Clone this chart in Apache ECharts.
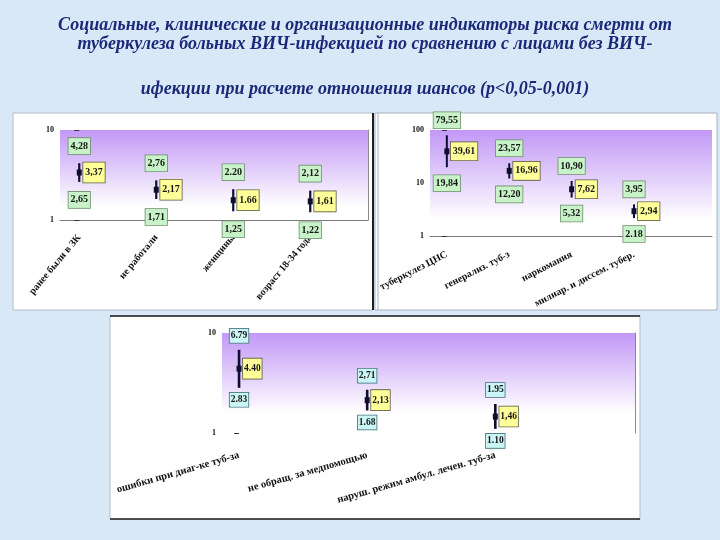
<!DOCTYPE html>
<html>
<head>
<meta charset="utf-8">
<script src="https://cdn.jsdelivr.net/npm/echarts@6/dist/echarts.min.js"></script>
<style>
  html, body { margin: 0; padding: 0; background: #d9e8f7; }
  #chart { width: 720px; height: 540px; }
</style>
</head>
<body>
<div id="chart"></div>
<script>
// панель 1 - социальные индикаторы
var cats1 = ['ранее были в ЗК', 'не работали', 'женщины', 'возраст 18-34 года'];
var upper1 = ['4,28', '2,76', '2.20', '2,12'];
var odds1 = ['3,37', '2,17', '1.66', '1,61'];
var lower1 = ['2,65', '1,71', '1,25', '1,22'];

// панель 2 - клинические
var cats2 = ['туберкулез ЦНС', 'генерализ. туб-з', 'наркомания', 'милиар. и диссем. тубер.'];
var upper2 = ['79,55', '23,57', '10,90', '3,95'];
var odds2 = ['39,61', '16,96', '7,62', '2,94'];
var lower2 = ['19,84', '12,20', '5,32', '2.18'];

// панель 3 - организационные
var cats3 = ['ошибки при диаг-ке туб-за', 'не обращ. за медпомощью', 'наруш. режим амбул. лечен. туб-за'];
var upper3 = ['6.79', '2,71', '1.95'];
var odds3 = ['4.40', '2,13', '1,46'];
var lower3 = ['2.83', '1.68', '1.10'];

var yTicks1 = [1, 10];
var yTicks2 = [1, 10, 100];
var yTicks3 = [1, 10];

var SERIF = '"Liberation Serif", "DejaVu Serif", serif';

function num(s) {
  return parseFloat(String(s).replace(',', '.'));
}

function rows(cats, lo, or, up) {
  return cats.map(function (c, i) {
    return [i, num(lo[i]), num(or[i]), num(up[i])];
  });
}

function ciRender(up, or, lo, st) {
  return function (params, api) {
    var i = params.dataIndex;
    var x = api.value(0);
    var pUp = api.coord([x, api.value(3)]);
    var pOr = api.coord([x, api.value(2)]);
    var pLo = api.coord([x, api.value(1)]);
    function box(txt, px, py, align, fill, border, pad) {
      return {
        type: 'text', x: px, y: py, z2: 10,
        style: {
          text: txt, align: align, verticalAlign: 'middle',
          font: 'bold ' + st.fs + 'px ' + SERIF, fill: '#151515',
          backgroundColor: fill, borderColor: border, borderWidth: 0.8,
          padding: pad
        }
      };
    }
    return {
      type: 'group',
      children: [
        { type: 'line', shape: { x1: pUp[0], y1: pUp[1], x2: pLo[0], y2: pLo[1] },
          style: { stroke: '#0e0e30', lineWidth: st.lw } },
        { type: 'rect', shape: { x: pOr[0] - 2.5, y: pOr[1] - 3, width: 5, height: 6 },
          style: { fill: '#0e0e30' } },
        box(up[i], pUp[0], pUp[1] - st.upOff, 'center', st.ciFill, st.ciBorder, st.ciPad),
        box(lo[i], pLo[0], pLo[1] + st.loOff, 'center', st.ciFill, st.ciBorder, st.ciPad),
        box(or[i], pOr[0] + 4, pOr[1], 'left', '#ffff99', '#5a5a40', st.orPad)
      ]
    };
  };
}

function purple(stop) {
  return {
    type: 'linear', x: 0, y: 0, x2: 0, y2: 1,
    colorStops: [
      { offset: 0, color: '#c298f6' },
      { offset: stop, color: '#ffffff' },
      { offset: 1, color: '#ffffff' }
    ]
  };
}

function catAxis(gi, cats, min, max, rot, margin, line, size) {
  return {
    type: 'value', gridIndex: gi, min: min, max: max,
    axisLine: { show: line, lineStyle: { color: '#7a7a7a', width: 1 } },
    axisTick: { show: false },
    splitLine: { show: false },
    axisLabel: {
      customValues: cats.map(function (c, i) { return i; }),
      formatter: function (v) { return cats[v]; },
      rotate: rot, margin: margin,
      fontFamily: SERIF, fontWeight: 'bold', fontSize: size, color: '#111'
    }
  };
}

function logAxis(gi, max) {
  return {
    type: 'log', logBase: 10, gridIndex: gi, min: 1, max: max,
    axisLine: { show: false },
    axisTick: { show: true, length: 5, lineStyle: { color: '#333' } },
    splitLine: { show: false },
    axisLabel: { fontFamily: SERIF, fontWeight: 'bold', fontSize: 8, color: '#111', margin: 6 }
  };
}

function borderAxis(gi) {
  return {
    type: 'value', gridIndex: gi, position: 'right', min: 0, max: 1,
    axisLine: { show: true, lineStyle: { color: '#8a8a8a' } },
    axisTick: { show: false }, axisLabel: { show: false }, splitLine: { show: false }
  };
}

var style1 = { fs: 10, lw: 2.2, upOff: 17, loOff: 18, ciFill: '#c8f2c8', ciBorder: '#6f8f6f', ciPad: [3, 2, 3, 2], orPad: [5, 2, 5, 2] };
var style2 = { fs: 10, lw: 2, upOff: 15, loOff: 16, ciFill: '#c8f2c8', ciBorder: '#6f8f6f', ciPad: [3, 2, 3, 2], orPad: [4, 2, 4, 2] };
var style3 = { fs: 9.5, lw: 2.6, upOff: 14, loOff: 12, ciFill: '#ccf6f6', ciBorder: '#3f6f7a', ciPad: [2, 1, 2, 1], orPad: [5, 1, 5, 1] };

var titleFont = {
  fontFamily: SERIF, fontStyle: 'italic', fontWeight: 'bold',
  fontSize: 18, lineHeight: 19, color: '#1b2a78'
};

var option = {
  backgroundColor: '#d9e8f7',
  animation: false,
  title: {
    text: 'Социальные, клинические и организационные индикаторы риска смерти от\n' +
          'туберкулеза больных ВИЧ-инфекцией по сравнению с лицами без ВИЧ-',
    subtext: 'ифекции при расчете отношения шансов (p<0,05-0,001)',
    left: 360, top: 11,
    textAlign: 'center',
    itemGap: 26,
    padding: 5,
    textStyle: titleFont,
    subtextStyle: titleFont
  },
  graphic: [
    { type: 'rect', z: -10, shape: { x: 13, y: 113, width: 360, height: 197 },
      style: { fill: '#ffffff', stroke: '#b4bcc6', lineWidth: 1 } },
    { type: 'line', z: -9, shape: { x1: 373, y1: 113, x2: 373, y2: 310 },
      style: { stroke: '#1e1e1e', lineWidth: 2 } },
    { type: 'rect', z: -10, shape: { x: 375, y: 113, width: 342, height: 197 },
      style: { fill: '#ffffff', stroke: '#a9b2bc', lineWidth: 1 } },
    { type: 'line', z: -9, shape: { x1: 378, y1: 113, x2: 378, y2: 310 },
      style: { stroke: '#a9b2bc', lineWidth: 1 } },
    { type: 'rect', z: -10, shape: { x: 110, y: 316, width: 530, height: 203 },
      style: { fill: '#ffffff', stroke: '#b4bcc6', lineWidth: 1 } },
    { type: 'line', z: -9, shape: { x1: 110, y1: 316, x2: 640, y2: 316 },
      style: { stroke: '#1e1e1e', lineWidth: 1.5 } },
    { type: 'line', z: -9, shape: { x1: 110, y1: 519, x2: 640, y2: 519 },
      style: { stroke: '#1e1e1e', lineWidth: 1.5 } }
  ],
  grid: [
    { left: 60, top: 130, width: 308, height: 90, show: true, borderWidth: 0, backgroundColor: purple(0.85) },
    { left: 430, top: 130, width: 282, height: 106, show: true, borderWidth: 0, backgroundColor: purple(0.85) },
    { left: 222, top: 333, width: 413, height: 100, show: true, borderWidth: 0, backgroundColor: purple(0.8) }
  ],
  xAxis: [
    catAxis(0, cats1, -0.25, 3.75, 50, 16, true, 10),
    catAxis(1, cats2, -0.27, 4.25, 27, 18, true, 10),
    catAxis(2, cats3, -0.133, 3.09, 16, 22, false, 10.5)
  ],
  yAxis: [
    logAxis(0, yTicks1[yTicks1.length - 1]),
    borderAxis(0),
    logAxis(1, yTicks2[yTicks2.length - 1]),
    logAxis(2, yTicks3[yTicks3.length - 1]),
    borderAxis(2)
  ],
  series: [
    { type: 'custom', xAxisIndex: 0, yAxisIndex: 0, clip: false,
      encode: { x: 0, y: [1, 2, 3] },
      data: rows(cats1, lower1, odds1, upper1),
      renderItem: ciRender(upper1, odds1, lower1, style1) },
    { type: 'custom', xAxisIndex: 1, yAxisIndex: 2, clip: false,
      encode: { x: 0, y: [1, 2, 3] },
      data: rows(cats2, lower2, odds2, upper2),
      renderItem: ciRender(upper2, odds2, lower2, style2) },
    { type: 'custom', xAxisIndex: 2, yAxisIndex: 3, clip: false,
      encode: { x: 0, y: [1, 2, 3] },
      data: rows(cats3, lower3, odds3, upper3),
      renderItem: ciRender(upper3, odds3, lower3, style3) }
  ]
};

var chart = echarts.init(document.getElementById('chart'));
chart.setOption(option);
</script>
</body>
</html>
